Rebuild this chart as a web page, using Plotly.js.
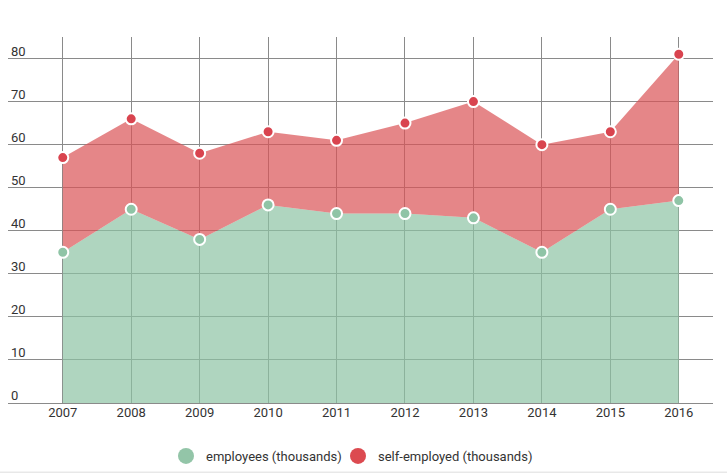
<!DOCTYPE html>
<html>
<head>
<meta charset="utf-8">
<script src="https://cdn.plot.ly/plotly-3.0.1.min.js"></script>
<style>html,body{margin:0;padding:0;background:#fff;}#chart{width:727px;height:475px;}</style>
</head>
<body>
<div id="chart"></div>
<script>
const years = [2007, 2008, 2009, 2010, 2011, 2012, 2013, 2014, 2015, 2016];
const employees = [35, 45, 38, 46, 44, 44, 43, 35, 45, 47];
const selfEmployed = [22, 21, 20, 17, 17, 21, 27, 25, 18, 34];
const yTicks = [0, 10, 20, 30, 40, 50, 60, 70, 80];
const seriesNames = ['employees (thousands)', 'self-employed (thousands)'];

const traces = [
  {
    x: years, y: employees, type: 'scatter', mode: 'lines+markers',
    stackgroup: 'one', name: seriesNames[0], showlegend: false,
    fillcolor: 'rgba(141,195,164,0.7)',
    line: {width: 0, color: 'rgba(0,0,0,0)'},
    marker: {size: 11, color: '#8fc4a6', line: {color: '#ffffff', width: 2}},
    hoverinfo: 'x+y'
  },
  {
    x: years, y: selfEmployed, type: 'scatter', mode: 'lines+markers',
    stackgroup: 'one', name: seriesNames[1], showlegend: false,
    fillcolor: 'rgba(218,82,86,0.7)',
    line: {width: 0, color: 'rgba(0,0,0,0)'},
    marker: {size: 11, color: '#d9444f', line: {color: '#ffffff', width: 2}},
    hoverinfo: 'x+y'
  },
  {
    x: [null], y: [null], type: 'scatter', mode: 'markers', name: seriesNames[0],
    legend: 'legend',
    marker: {size: 16, color: '#93c5a8'}
  },
  {
    x: [null], y: [null], type: 'scatter', mode: 'markers', name: seriesNames[1],
    legend: 'legend2',
    marker: {size: 16, color: '#dc4a50'}
  }
];

const yLabelAnnotations = yTicks.map(v => ({
  xref: 'paper', yref: 'y', x: 0, y: v, xanchor: 'left', yanchor: 'bottom',
  xshift: 1, yshift: -2, text: String(v), showarrow: false,
  font: {family: 'Roboto, sans-serif', size: 13, color: '#333333'}
}));

const legendBase = {
  orientation: 'h', xref: 'container', xanchor: 'left',
  yref: 'container', y: 0.04, yanchor: 'middle',
  font: {size: 13, color: '#333333'}, bgcolor: 'rgba(0,0,0,0)'
};

const layout = {
  width: 727, height: 475,
  margin: {l: 8, r: 14, t: 37, b: 72},
  paper_bgcolor: '#ffffff', plot_bgcolor: '#ffffff',
  font: {family: 'Roboto, sans-serif', size: 13, color: '#333333'},
  xaxis: {
    range: [2006.2, 2016.5],
    tickvals: years, ticktext: years.map(String),
    showgrid: true, gridcolor: '#8a8a8a', gridwidth: 1,
    zeroline: false, showline: false, ticks: '',
    tickfont: {size: 13, color: '#333333'}
  },
  yaxis: {
    range: [0, 85],
    tickvals: yTicks, showticklabels: false,
    showgrid: true, gridcolor: '#8a8a8a', gridwidth: 1,
    zeroline: true, zerolinecolor: '#8a8a8a', zerolinewidth: 1,
    showline: false, ticks: ''
  },
  annotations: yLabelAnnotations,
  showlegend: true,
  legend: Object.assign({}, legendBase, {x: 166 / 727}),
  legend2: Object.assign({}, legendBase, {x: 338 / 727}),
  shapes: [{
    type: 'line', xref: 'paper', yref: 'paper',
    x0: -0.02, x1: 1.03, y0: -0.189, y1: -0.189,
    line: {color: '#dddddd', width: 1}
  }]
};

Plotly.newPlot('chart', traces, layout, {displayModeBar: false, staticPlot: true});
</script>
</body>
</html>
